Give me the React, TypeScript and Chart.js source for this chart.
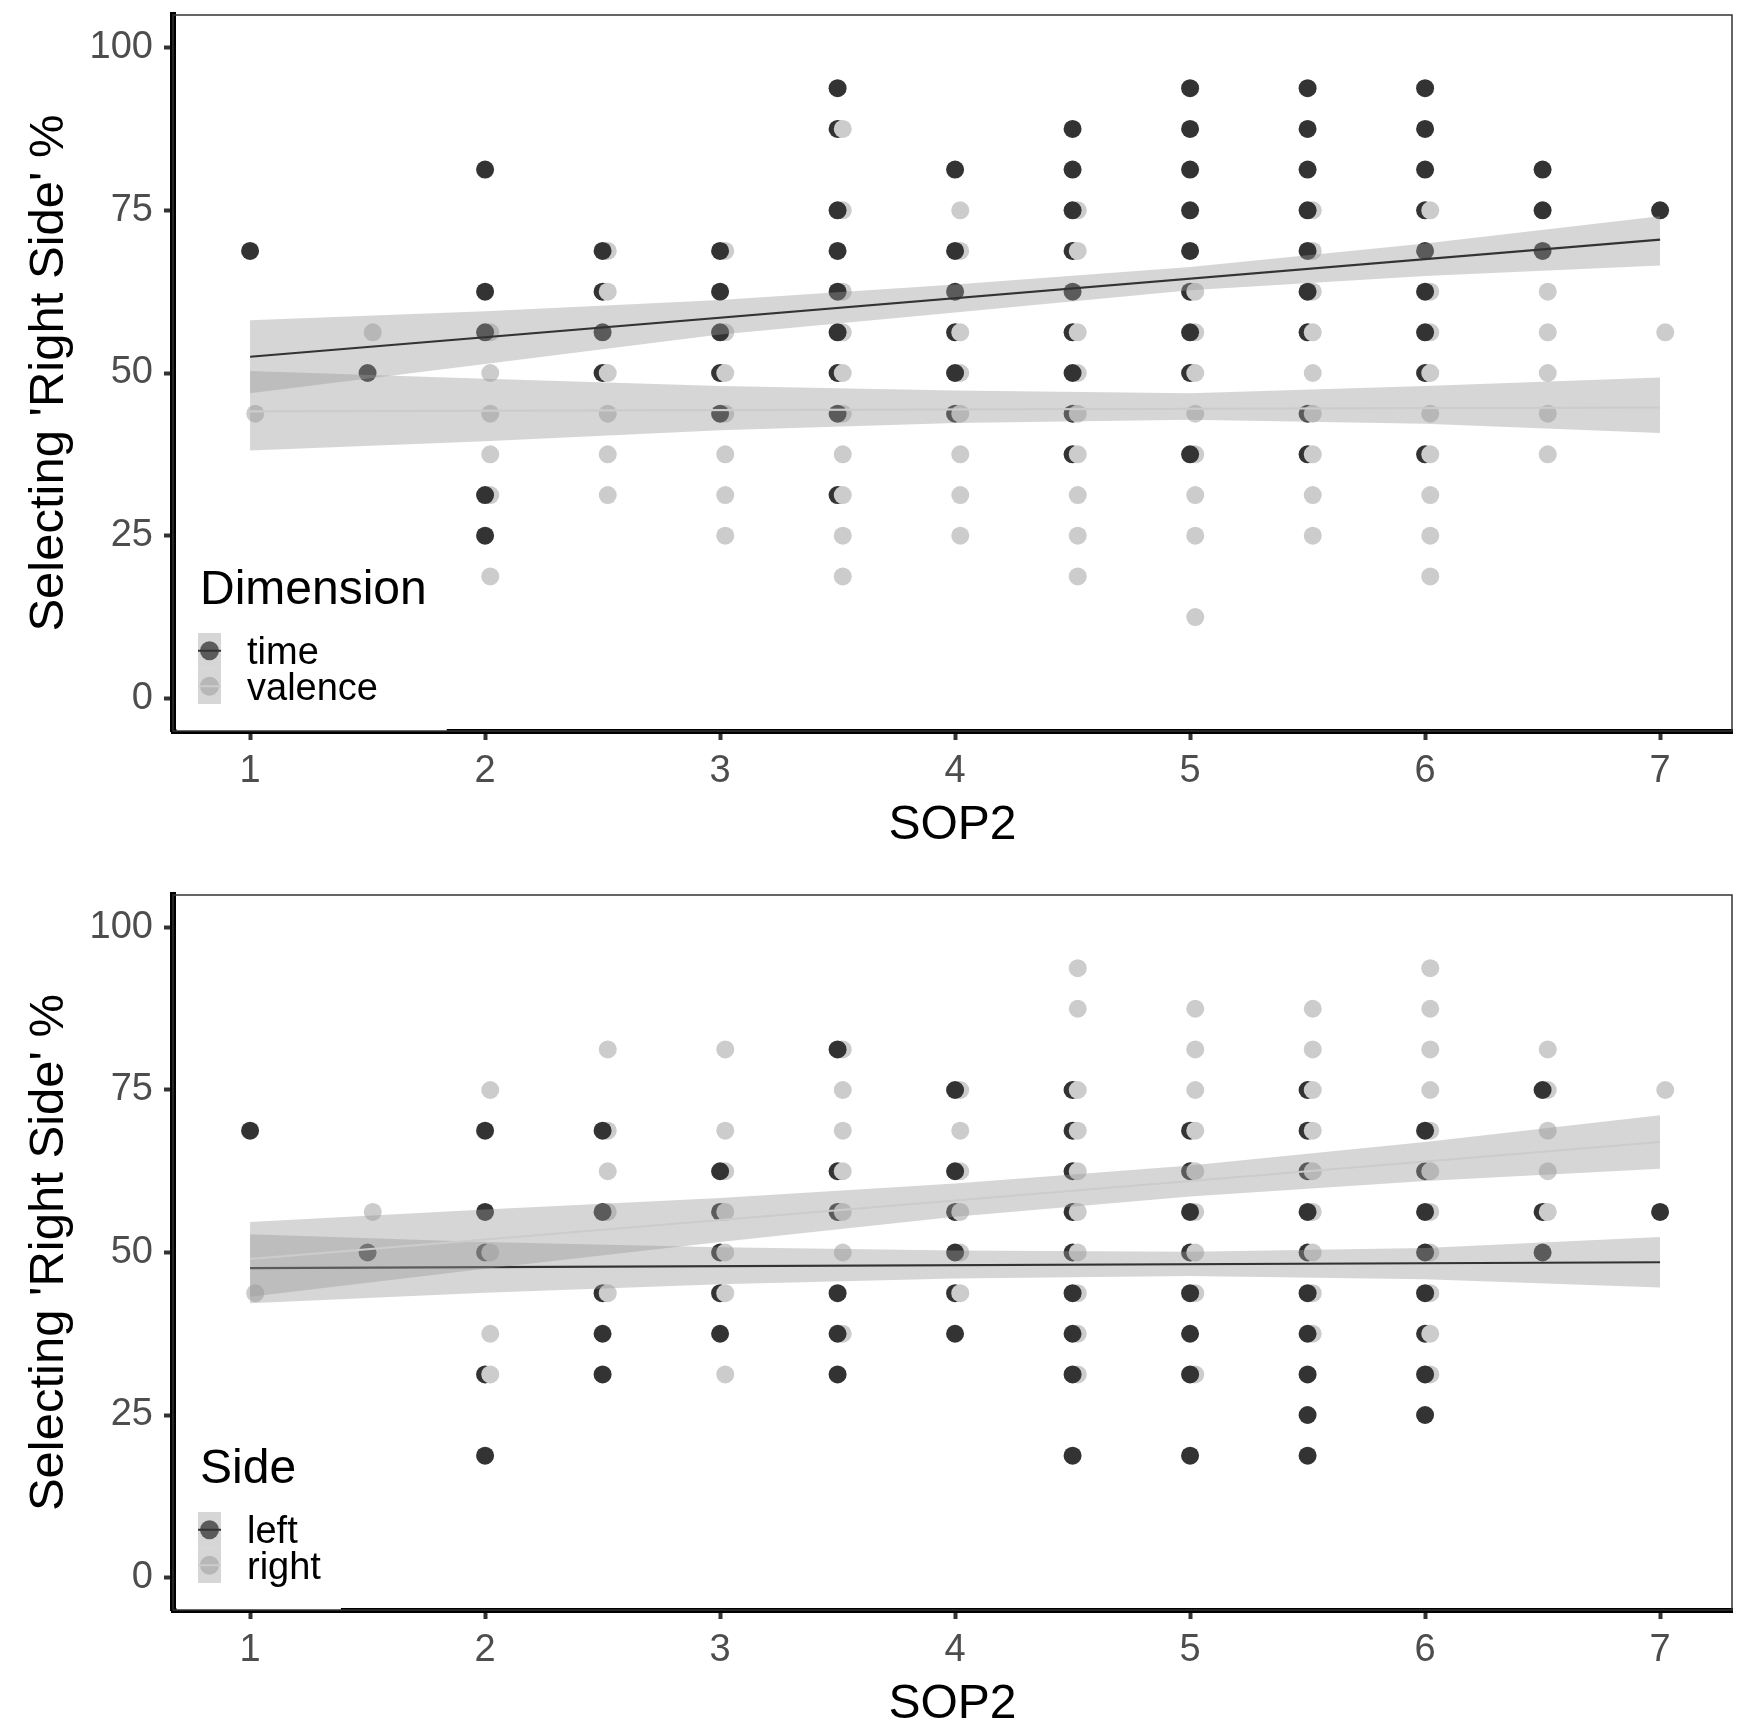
import React, { useEffect, useRef } from 'react';
import { Chart, registerables } from 'chart.js';

Chart.register(...registerables);

const FONT = '"Liberation Sans", Arial, sans-serif';
const DARK = '#333333';
const LIGHT = '#cccccc';
const BAND = 'rgba(153, 153, 153, 0.4)';
const LIGHT_SHIFT = 0.022; // light points sit a little right of the dark ones

// x categories and ticks
const sop2Levels = [1, 1.5, 2, 2.5, 3, 3.5, 4, 4.5, 5, 5.5, 6, 6.5, 7];
const xTicks = [1, 2, 3, 4, 5, 6, 7];
const yTicks = [0, 25, 50, 75, 100];
const fitXs = [1, 7];
const bandXs = [1, 2, 3, 4, 5, 6, 7];

// ---- top panel: Dimension (time / valence) ----
// one inner list per SOP2 level
const timeOver: number[][] = [
  [68.75],
  [50],
  [81.25, 62.5, 56.25, 31.25, 25],
  [68.75, 56.25],
  [68.75, 62.5, 56.25, 43.75],
  [93.75, 75, 68.75, 62.5, 56.25, 43.75],
  [81.25, 68.75, 62.5, 50],
  [87.5, 81.25, 75, 62.5, 50],
  [93.75, 87.5, 81.25, 75, 68.75, 56.25, 37.5],
  [93.75, 87.5, 81.25, 75, 68.75, 62.5],
  [93.75, 87.5, 81.25, 68.75, 62.5, 56.25],
  [81.25, 75, 68.75],
  [75],
];
const timeUnder: number[][] = [
  [],
  [],
  [],
  [62.5, 50],
  [50],
  [87.5, 50, 31.25],
  [56.25, 43.75],
  [68.75, 56.25, 43.75, 37.5],
  [62.5, 50],
  [56.25, 43.75, 37.5],
  [75, 50, 37.5],
  [],
  [],
];
const valence: number[][] = [
  [43.75],
  [56.25],
  [56.25, 50, 43.75, 37.5, 31.25, 18.75],
  [68.75, 62.5, 50, 43.75, 37.5, 31.25],
  [68.75, 56.25, 50, 43.75, 37.5, 31.25, 25],
  [87.5, 75, 62.5, 56.25, 50, 43.75, 37.5, 31.25, 25, 18.75],
  [75, 68.75, 56.25, 50, 43.75, 37.5, 31.25, 25],
  [75, 68.75, 56.25, 50, 43.75, 37.5, 31.25, 25, 18.75],
  [62.5, 56.25, 50, 43.75, 37.5, 31.25, 25, 12.5],
  [75, 68.75, 62.5, 56.25, 50, 43.75, 37.5, 31.25, 25],
  [75, 62.5, 56.25, 50, 43.75, 37.5, 31.25, 25, 18.75],
  [62.5, 56.25, 50, 43.75, 37.5],
  [56.25],
];
const timeFit = [52.5, 70.5];
const timeUpper = [58.1, 59.5, 61.2, 63.6, 66.3, 69.9, 74.1];
const timeLower = [46.9, 51.4, 55.9, 59.3, 62.7, 64.9, 66.5];
const valenceFit = [44.1, 44.7];
const valenceUpper = [50.3, 49.1, 48.0, 47.3, 46.9, 48.0, 49.3];
const valenceLower = [38.1, 39.5, 41.2, 42.3, 42.8, 42.2, 40.8];

// ---- bottom panel: Side (left / right) ----
const leftOver: number[][] = [
  [68.75],
  [50],
  [68.75, 56.25, 18.75],
  [68.75, 56.25, 37.5, 31.25],
  [62.5, 37.5],
  [81.25, 43.75, 37.5, 31.25],
  [75, 62.5, 50, 37.5],
  [43.75, 37.5, 31.25, 18.75],
  [56.25, 43.75, 37.5, 31.25, 18.75],
  [56.25, 43.75, 37.5, 31.25, 25, 18.75],
  [68.75, 56.25, 50, 43.75, 31.25, 25],
  [75, 50],
  [56.25],
];
const leftUnder: number[][] = [
  [],
  [],
  [50, 31.25],
  [43.75],
  [56.25, 50, 43.75],
  [62.5, 56.25],
  [56.25, 43.75],
  [75, 68.75, 62.5, 56.25, 50],
  [68.75, 62.5, 50],
  [75, 68.75, 62.5, 50],
  [62.5, 37.5],
  [56.25],
  [],
];
const right: number[][] = [
  [43.75],
  [56.25],
  [75, 50, 37.5, 31.25],
  [81.25, 68.75, 62.5, 56.25, 43.75],
  [81.25, 68.75, 62.5, 56.25, 50, 43.75, 31.25],
  [81.25, 75, 68.75, 62.5, 56.25, 50, 37.5],
  [75, 68.75, 62.5, 56.25, 50, 43.75],
  [93.75, 87.5, 75, 68.75, 62.5, 56.25, 50, 43.75, 37.5, 31.25],
  [87.5, 81.25, 75, 68.75, 62.5, 56.25, 50, 43.75, 31.25],
  [87.5, 81.25, 75, 68.75, 62.5, 56.25, 50, 43.75, 37.5],
  [93.75, 87.5, 81.25, 75, 68.75, 62.5, 56.25, 50, 43.75, 37.5, 31.25],
  [81.25, 75, 68.75, 62.5, 56.25],
  [75],
];
const leftFit = [47.6, 48.5];
const leftUpper = [52.8, 51.6, 50.8, 50.3, 50.1, 50.7, 52.4];
const leftLower = [42.2, 43.8, 45.1, 46.0, 46.4, 45.9, 44.6];
const rightFit = [49.0, 67.0];
const rightUpper = [54.7, 56.6, 58.4, 60.6, 63.4, 67.0, 71.1];
const rightLower = [43.2, 47.5, 51.6, 55.5, 58.6, 61.0, 62.9];

interface PanelSpec {
  legendTitle: string;
  groups: [string, string];
  darkOver: number[][];
  darkUnder: number[][];
  light: number[][];
  darkFit: number[];
  lightFit: number[];
  darkUpper: number[];
  darkLower: number[];
  lightUpper: number[];
  lightLower: number[];
}

const topSpec: PanelSpec = {
  legendTitle: 'Dimension',
  groups: ['time', 'valence'],
  darkOver: timeOver,
  darkUnder: timeUnder,
  light: valence,
  darkFit: timeFit,
  lightFit: valenceFit,
  darkUpper: timeUpper,
  darkLower: timeLower,
  lightUpper: valenceUpper,
  lightLower: valenceLower,
};

const bottomSpec: PanelSpec = {
  legendTitle: 'Side',
  groups: ['left', 'right'],
  darkOver: leftOver,
  darkUnder: leftUnder,
  light: right,
  darkFit: leftFit,
  lightFit: rightFit,
  darkUpper: leftUpper,
  darkLower: leftLower,
  lightUpper: rightUpper,
  lightLower: rightLower,
};

const toPoints = (cols: number[][], shift = 0) =>
  cols.flatMap((ys, i) => ys.map((y) => ({ x: sop2Levels[i] + shift, y })));
const toLine = (xs: number[], ys: number[]) => xs.map((x, i) => ({ x, y: ys[i] }));

const pointSet = (data: any[], color: string, order: number) => ({
  type: 'scatter',
  data,
  order,
  pointRadius: 9,
  pointHoverRadius: 9,
  backgroundColor: color,
  borderWidth: 0,
});

const bandPair = (upper: number[], lower: number[], order: number) => [
  {
    type: 'line',
    data: toLine(bandXs, upper),
    order,
    fill: '+1',
    backgroundColor: BAND,
    borderColor: 'transparent',
    borderWidth: 0,
    pointRadius: 0,
  },
  {
    type: 'line',
    data: toLine(bandXs, lower),
    order,
    fill: false,
    borderColor: 'transparent',
    borderWidth: 0,
    pointRadius: 0,
  },
];

const fitLine = (ys: number[], color: string, order: number) => ({
  type: 'line',
  data: toLine(fitXs, ys),
  order,
  fill: false,
  borderColor: color,
  borderWidth: 2.2,
  pointRadius: 0,
});

// legend drawn inside the panel + thin panel border
const decorPlugin = (spec: PanelSpec) => ({
  id: 'panelDecor',
  afterDraw(chart: Chart) {
    const { ctx, chartArea: a } = chart;
    const left = a.left + 27;
    ctx.save();
    ctx.font = `48px ${FONT}`;
    const titleW = ctx.measureText(spec.legendTitle).width;
    ctx.font = `38px ${FONT}`;
    const labelW = Math.max(...spec.groups.map((g) => ctx.measureText(g).width));
    const boxRight = Math.max(left + titleW, left + 47 + labelW) + 20;

    ctx.fillStyle = '#ffffff';
    ctx.fillRect(a.left + 3.5, a.bottom - 185, boxRight - a.left - 3.5, 185);

    ctx.fillStyle = '#000000';
    ctx.textAlign = 'left';
    ctx.textBaseline = 'alphabetic';
    ctx.font = `48px ${FONT}`;
    ctx.fillText(spec.legendTitle, left, a.bottom - 127);

    const colors = [DARK, LIGHT];
    const keyH = 35.5;
    spec.groups.forEach((g, i) => {
      const top = a.bottom - 98 + i * keyH;
      const cy = top + keyH / 2;
      const kx = left - 2;
      ctx.fillStyle = colors[i];
      ctx.beginPath();
      ctx.arc(kx + 11.5, cy, 9.5, 0, Math.PI * 2);
      ctx.fill();
      ctx.fillStyle = BAND;
      ctx.fillRect(kx, top, 23, keyH);
      ctx.strokeStyle = colors[i];
      ctx.lineWidth = 2;
      ctx.beginPath();
      ctx.moveTo(kx, cy);
      ctx.lineTo(kx + 23, cy);
      ctx.stroke();
      ctx.fillStyle = '#000000';
      ctx.font = `38px ${FONT}`;
      ctx.fillText(g, left + 47, a.bottom - 67 + i * 36);
    });

    ctx.strokeStyle = '#333333';
    ctx.lineWidth = 1.5;
    ctx.strokeRect(a.left, a.top, a.right - a.left, a.bottom - a.top);
    ctx.restore();
  },
});

const buildConfig = (spec: PanelSpec, padTop: number, axisHeight: number, titleShift: number): any => ({
  type: 'scatter',
  data: {
    datasets: [
      fitLine(spec.lightFit, LIGHT, 1),
      ...bandPair(spec.lightUpper, spec.lightLower, 2),
      fitLine(spec.darkFit, DARK, 3),
      ...bandPair(spec.darkUpper, spec.darkLower, 4),
      pointSet(toPoints(spec.darkOver), DARK, 5),
      pointSet(toPoints(spec.light, LIGHT_SHIFT), LIGHT, 6),
      pointSet(toPoints(spec.darkUnder), DARK, 7),
    ],
  },
  options: {
    animation: false,
    responsive: false,
    maintainAspectRatio: false,
    devicePixelRatio: 1,
    events: [],
    layout: { padding: { top: padTop, right: 18, left: 0, bottom: 0 } },
    plugins: { legend: { display: false }, tooltip: { enabled: false } },
    scales: {
      x: {
        type: 'linear',
        min: 0.672,
        max: 7.306,
        afterBuildTicks: (s: any) => {
          s.ticks = xTicks.map((v) => ({ value: v }));
        },
        afterFit: (s: any) => {
          s.height = axisHeight;
          s.paddingLeft = 0;
          s.paddingRight = 0;
        },
        ticks: { color: '#4d4d4d', font: { size: 38, family: FONT }, padding: 9, maxRotation: 0 },
        grid: { display: true, drawOnChartArea: false, drawTicks: true, tickLength: 9, tickWidth: 4, tickColor: '#333333' },
        border: { display: true, color: '#000000', width: 5 },
        title: {
          display: true,
          text: 'SOP2',
          color: '#000000',
          font: { size: 48, family: FONT },
          padding: { top: 0, bottom: titleShift },
        },
      },
      y: {
        type: 'linear',
        min: -5,
        max: 105,
        afterBuildTicks: (s: any) => {
          s.ticks = yTicks.map((v) => ({ value: v }));
        },
        afterFit: (s: any) => {
          s.width = 173;
          s.paddingTop = 0;
          s.paddingBottom = 0;
        },
        ticks: { color: '#4d4d4d', font: { size: 38, family: FONT }, padding: 11 },
        grid: { display: true, drawOnChartArea: false, drawTicks: true, tickLength: 9, tickWidth: 4, tickColor: '#333333' },
        border: { display: true, color: '#000000', width: 6 },
        title: {
          display: true,
          text: "Selecting 'Right Side' %",
          color: '#000000',
          font: { size: 49, family: FONT },
          padding: { top: 20, bottom: 0 },
        },
      },
    },
  },
  plugins: [decorPlugin(spec)],
});

const Panel: React.FC<{
  spec: PanelSpec;
  top: number;
  height: number;
  padTop: number;
  axisHeight: number;
  titleShift: number;
}> = ({ spec, top, height, padTop, axisHeight, titleShift }) => {
  const canvasRef = useRef<HTMLCanvasElement>(null);

  useEffect(() => {
    const ctx = canvasRef.current?.getContext('2d');
    if (ctx) {
      const chart = new Chart(ctx, buildConfig(spec, padTop, axisHeight, titleShift));
      return () => chart.destroy();
    }
  }, [spec, padTop, axisHeight, titleShift]);

  return (
    <canvas
      ref={canvasRef}
      width={1750}
      height={height}
      style={{ position: 'absolute', left: 0, top, width: 1750, height, display: 'block' }}
    />
  );
};

const App: React.FC = () => (
  <div style={{ position: 'absolute', left: 0, top: 0, width: 1750, height: 1724, background: '#ffffff' }}>
    <Panel spec={topSpec} top={0} height={850} padTop={15} axisHeight={119} titleShift={-5} />
    <Panel spec={bottomSpec} top={850} height={874} padTop={45} axisHeight={114} titleShift={-10} />
  </div>
);

export default App;
